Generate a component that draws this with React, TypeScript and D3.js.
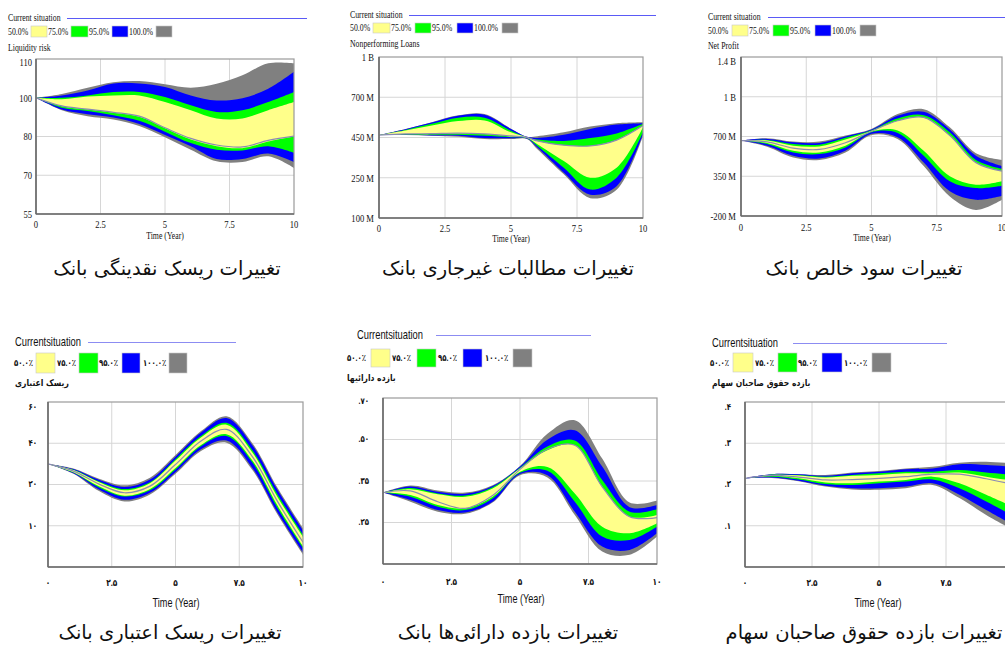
import React from 'react';
import * as d3 from 'd3';

// ---- shared axes / legend text ----
const years = [0, 1, 2, 3, 4, 5, 6, 7, 8, 9, 10];
const yearsNpl = [0, 1, 2, 3, 4, 5, 5.6, 6, 7, 8, 9, 10];
const xTickValues = [0, 2.5, 5, 7.5, 10];
const xTickLatin = ['0', '2.5', '5', '7.5', '10'];
const xTickPersian = ['۰', '۲.۵', '۵', '۷.۵', '۱۰'];
const bandLabelsLatin = ['50.0%', '75.0%', '95.0%', '100.0%'];
const bandLabelsPersian = ['۵۰.۰٪', '۷۵.۰٪', '۹۵.۰٪', '۱۰۰.۰٪'];
const bandColors = ['#ffff8a', '#00ff00', '#0000ff', '#808080'];
const captions = [
  'تغییرات ریسک نقدینگی بانک',
  'تغییرات مطالبات غیرجاری بانک',
  'تغییرات سود خالص بانک',
  'تغییرات ریسک اعتباری بانک',
  'تغییرات بازده دارائی‌ها بانک',
  'تغییرات بازده حقوق صاحبان سهام',
];

// ---- Liquidity risk ----
const liqTicks = [55, 70, 80, 100, 110];
const liqTickLabels = ['55', '70', '80', '100', '110'];
const liqGrayHi = [100, 101, 102.6, 104, 104.3, 103.5, 102.6, 103.6, 105.8, 108.9, 108.9];
const liqBlueHi = [100, 100.6, 101.9, 103.7, 103.7, 102.8, 100.6, 98.6, 99.8, 102.3, 106.7];
const liqGreenHi = [100, 100, 100.6, 101.5, 101.5, 100.2, 96.1, 92.7, 93.6, 97.8, 101.5];
const liqYellowHi = [100, 99.2, 100.3, 100.6, 100.6, 97.8, 93.6, 89.3, 89.3, 93.6, 97.8];
const liqYellowLo = [100, 95.6, 93.9, 92.2, 90.2, 84.2, 79.2, 77.5, 77.0, 78.7, 80];
const liqGreenLo = [100, 94.9, 93.2, 91.0, 88.1, 82.5, 78.3, 76.6, 76.4, 77.5, 75.8];
const liqBlueLo = [100, 93.9, 91.5, 89.8, 86.4, 80.8, 77.5, 74.2, 74.2, 75.6, 73.4];
const liqGrayLo = [100, 93.6, 90.5, 88.8, 85.4, 79.8, 76.6, 73.6, 73.4, 74.9, 71.9];
const liqCurrent = [100, 95.8, 94.1, 92.5, 90.5, 84.5, 79.5, 77.8, 77.3, 79, 80.2];

// ---- Nonperforming loans (million) ----
const nplTicks = [100, 250, 450, 700, 1000];
const nplTickLabels = ['100 M', '250 M', '450 M', '700 M', '1 B'];
const nplGrayHi = [465, 503, 545, 588, 596, 505, 455, 458, 482, 518, 539, 545];
const nplBlueHi = [465, 502, 543, 585, 592, 503, 454, 448, 467, 503, 530, 539];
const nplGreenHi = [465, 497, 535, 573, 573, 492, 452, 440, 433, 447, 475, 535];
const nplYellowHi = [465, 493, 524, 552, 556, 482, 451, 433, 412, 408, 437, 524];
const nplYellowLo = [465, 471, 471, 475, 471, 456, 449, 417, 333, 250, 300, 514];
const nplGreenLo = [465, 469, 467, 467, 461, 452, 447, 408, 300, 206, 250, 482];
const nplBlueLo = [465, 467, 463, 461, 447, 446, 445, 400, 275, 187, 218, 471];
const nplGrayLo = [465, 465, 461, 454, 442, 442, 443, 392, 267, 174, 205, 461];
const nplCurrent = [465, 472, 474, 477, 472, 460, 451, 433, 412, 408, 437, 524];

// ---- Net profit (million) ----
const npTicks = [-200, 350, 700, 1000, 1400];
const npTickLabels = ['-200 M', '350 M', '700 M', '1 B', '1.4 B'];
const npGrayHi = [664, 685, 655, 655, 707, 757, 869, 906, 769, 553, 494];
const npBlueHi = [664, 679, 649, 643, 700, 752, 856, 886, 752, 530, 440];
const npGreenHi = [664, 670, 634, 628, 688, 747, 836, 861, 732, 494, 416];
const npYellowHi = [664, 664, 619, 613, 673, 742, 819, 844, 707, 470, 395];
const npYellowLo = [664, 643, 574, 559, 619, 737, 745, 574, 350, 233, 280];
const npGreenLo = [664, 634, 559, 545, 604, 732, 727, 530, 281, 187, 220];
const npBlueLo = [664, 619, 530, 506, 574, 720, 694, 470, 141, 24, 80];
const npGrayLo = [664, 610, 515, 494, 559, 712, 679, 440, 71, -116, 24];
const npCurrent = [664, 652, 598, 586, 645, 740, 819, 844, 707, 470, 395];

// ---- Credit risk ----
const crTicks = [0, 10, 20, 40, 60];
const crTickLabels = ['', '۱۰', '۲۰', '۴۰', '۶۰'];
const crGrayHi = [30, 27.8, 22.8, 19.8, 23.3, 34.3, 45.9, 53.1, 40.3, 19.2, 9.4];
const crBlueHi = [30, 27.5, 22.3, 19.4, 22.4, 33.5, 45.2, 52.2, 39.3, 18.7, 8.9];
const crGreenHi = [30, 27.2, 21.5, 18.9, 21.1, 32.3, 43.5, 49.9, 36.8, 17.6, 7.8];
const crYellowHi = [30, 27.0, 21.1, 18.6, 20.6, 31.6, 42.8, 49.0, 35.8, 17.0, 7.3];
const crYellowLo = [30, 26.0, 19.6, 17.3, 18.9, 28.0, 39.2, 44.4, 31.9, 14.9, 5.0];
const crGreenLo = [30, 25.8, 19.3, 17.1, 18.6, 27.3, 38.6, 43.5, 30.9, 14.3, 4.6];
const crBlueLo = [30, 25.5, 18.8, 16.3, 18.0, 26.0, 37.1, 41.3, 28.3, 13.2, 3.5];
const crGrayLo = [30, 25.2, 18.4, 15.9, 17.6, 25.2, 36.3, 40.3, 27.3, 12.7, 3.0];
const crCurrent = [30, 26.5, 20.2, 18.0, 19.6, 29.7, 41.1, 46.7, 33.8, 15.9, 6.0];

// ---- Return on assets ----
const roaTicks = [0.15, 0.25, 0.35, 0.5, 0.7];
const roaTickLabels = ['', '.۲۵', '.۳۵', '.۵۰', '.۷۰'];
const roaGrayHi = [0.322, 0.339, 0.327, 0.322, 0.34, 0.404, 0.528, 0.593, 0.431, 0.298, 0.303];
const roaBlueHi = [0.322, 0.337, 0.324, 0.319, 0.338, 0.402, 0.499, 0.544, 0.402, 0.287, 0.292];
const roaGreenHi = [0.322, 0.333, 0.32, 0.315, 0.335, 0.398, 0.475, 0.496, 0.354, 0.276, 0.282];
const roaYellowHi = [0.322, 0.33, 0.318, 0.312, 0.332, 0.395, 0.461, 0.479, 0.336, 0.264, 0.268];
const roaYellowLo = [0.322, 0.316, 0.292, 0.284, 0.312, 0.383, 0.401, 0.32, 0.24, 0.224, 0.248];
const roaGreenLo = [0.322, 0.312, 0.288, 0.28, 0.308, 0.38, 0.387, 0.3, 0.216, 0.208, 0.24];
const roaBlueLo = [0.322, 0.304, 0.28, 0.274, 0.3, 0.375, 0.371, 0.276, 0.192, 0.184, 0.224];
const roaGrayLo = [0.322, 0.3, 0.276, 0.271, 0.298, 0.371, 0.363, 0.268, 0.18, 0.172, 0.216];
const roaCurrent = [0.322, 0.326, 0.3, 0.284, 0.315, 0.392, 0.465, 0.479, 0.336, 0.264, 0.262];

// ---- Return on equity ----
const roeTicks = [0, 0.1, 0.2, 0.3, 0.4];
const roeTickLabels = ['', '.۱', '.۲', '.۳', '.۴'];
const roeGrayHi = [0.215, 0.225, 0.225, 0.223, 0.229, 0.233, 0.239, 0.243, 0.253, 0.255, 0.251];
const roeBlueHi = [0.215, 0.225, 0.225, 0.221, 0.227, 0.231, 0.237, 0.239, 0.249, 0.247, 0.243];
const roeGreenHi = [0.215, 0.224, 0.223, 0.219, 0.223, 0.227, 0.231, 0.231, 0.235, 0.229, 0.223];
const roeYellowHi = [0.215, 0.223, 0.222, 0.217, 0.221, 0.223, 0.227, 0.227, 0.229, 0.219, 0.209];
const roeYellowLo = [0.215, 0.221, 0.215, 0.205, 0.203, 0.207, 0.211, 0.219, 0.203, 0.175, 0.146];
const roeGreenLo = [0.215, 0.219, 0.212, 0.201, 0.199, 0.203, 0.207, 0.212, 0.191, 0.159, 0.124];
const roeBlueLo = [0.215, 0.217, 0.209, 0.197, 0.191, 0.191, 0.195, 0.203, 0.175, 0.138, 0.102];
const roeGrayLo = [0.215, 0.216, 0.208, 0.195, 0.188, 0.187, 0.191, 0.199, 0.167, 0.126, 0.09];
const roeCurrent = [0.215, 0.222, 0.218, 0.211, 0.212, 0.215, 0.219, 0.225, 0.225, 0.214, 0.2];

type Series = {
  t: number[];
  grayHi: number[]; blueHi: number[]; greenHi: number[]; yellowHi: number[];
  yellowLo: number[]; greenLo: number[]; blueLo: number[]; grayLo: number[];
  current: number[];
};

const SERIF = "'Liberation Serif', 'Times New Roman', serif";
const SANS = "'Liberation Sans', 'DejaVu Sans', Arial, sans-serif";
const FA = "'DejaVu Sans', sans-serif";
const PAGE_W = 1005;

type Layout = {
  id: string;
  persian: boolean;
  plot: { left: number; right: number; top: number; bottom: number };
  title: { x: number; y: number; x1: number; x2: number };
  legend: { cy: number; top: number; bottom: number; sw: number[][]; lx: number[] };
  axisLabel: { x: number; y: number; text: string };
  tickRight: number;
  topTickShift: number;
  xLabelY: number;
  time: { x: number; y: number };
  ticks: number[];
  tickLabels: string[];
};

const layouts: Layout[] = [
  {
    id: 'liq', persian: false,
    plot: { left: 36, right: 294, top: 59, bottom: 214 },
    title: { x: 8, y: 18, x1: 67, x2: 307 },
    legend: { cy: 31.5, top: 26, bottom: 37, sw: [[31, 47], [71, 88], [112, 128], [156, 172]], lx: [8, 48, 89, 129] },
    axisLabel: { x: 8, y: 48, text: 'Liquidity risk' },
    tickRight: 32, topTickShift: 3, xLabelY: 224, time: { x: 165, y: 236 },
    ticks: liqTicks, tickLabels: liqTickLabels,
  },
  {
    id: 'npl', persian: false,
    plot: { left: 379, right: 643, top: 57, bottom: 218 },
    title: { x: 350, y: 15, x1: 409, x2: 656 },
    legend: { cy: 28, top: 23, bottom: 33, sw: [[373, 390], [415, 431], [457, 473], [502, 518]], lx: [350, 391, 432, 474] },
    axisLabel: { x: 350, y: 44, text: 'Nonperforming Loans' },
    tickRight: 374, topTickShift: 0, xLabelY: 228, time: { x: 511, y: 239 },
    ticks: nplTicks, tickLabels: nplTickLabels,
  },
  {
    id: 'np', persian: false,
    plot: { left: 741, right: 1002, top: 57, bottom: 216 },
    title: { x: 708, y: 17, x1: 768, x2: 1005 },
    legend: { cy: 31, top: 25, bottom: 36, sw: [[732, 748], [773, 789], [815, 831], [860, 876]], lx: [708, 749, 790, 832] },
    axisLabel: { x: 708, y: 46, text: 'Net Profit' },
    tickRight: 736, topTickShift: 4, xLabelY: 227, time: { x: 872, y: 238 },
    ticks: npTicks, tickLabels: npTickLabels,
  },
  {
    id: 'cr', persian: true,
    plot: { left: 48, right: 303, top: 402, bottom: 567 },
    title: { x: 15, y: 342, x1: 88, x2: 236 },
    legend: { cy: 363, top: 353, bottom: 373, sw: [[36, 55], [79, 98], [122, 140], [169, 187]], lx: [14, 57, 99, 143] },
    axisLabel: { x: 15, y: 383, text: 'ریسک اعتباری' },
    tickRight: 37, topTickShift: 5, xLabelY: 583, time: { x: 176, y: 602 },
    ticks: crTicks, tickLabels: crTickLabels,
  },
  {
    id: 'roa', persian: true,
    plot: { left: 383, right: 657, top: 398, bottom: 564 },
    title: { x: 357, y: 335, x1: 436, x2: 591 },
    legend: { cy: 358, top: 349, bottom: 367, sw: [[371, 390], [417, 436], [463, 482], [513, 532]], lx: [347, 392, 438, 485] },
    axisLabel: { x: 347, y: 378, text: 'بازده دارائیها' },
    tickRight: 369, topTickShift: 3, xLabelY: 582, time: { x: 521, y: 598 },
    ticks: roaTicks, tickLabels: roaTickLabels,
  },
  {
    id: 'roe', persian: true,
    plot: { left: 745, right: 1013, top: 402, bottom: 567 },
    title: { x: 712, y: 343, x1: 793, x2: 947 },
    legend: { cy: 363, top: 353, bottom: 372, sw: [[733, 753], [778, 797], [822, 842], [872, 891]], lx: [710, 755, 798, 844] },
    axisLabel: { x: 712, y: 383, text: 'بازده حقوق صاحبان سهام' },
    tickRight: 731, topTickShift: 5, xLabelY: 583, time: { x: 878, y: 602 },
    ticks: roeTicks, tickLabels: roeTickLabels,
  },
];

const seriesList: Series[] = [
  { t: years, grayHi: liqGrayHi, blueHi: liqBlueHi, greenHi: liqGreenHi, yellowHi: liqYellowHi, yellowLo: liqYellowLo, greenLo: liqGreenLo, blueLo: liqBlueLo, grayLo: liqGrayLo, current: liqCurrent },
  { t: yearsNpl, grayHi: nplGrayHi, blueHi: nplBlueHi, greenHi: nplGreenHi, yellowHi: nplYellowHi, yellowLo: nplYellowLo, greenLo: nplGreenLo, blueLo: nplBlueLo, grayLo: nplGrayLo, current: nplCurrent },
  { t: years, grayHi: npGrayHi, blueHi: npBlueHi, greenHi: npGreenHi, yellowHi: npYellowHi, yellowLo: npYellowLo, greenLo: npGreenLo, blueLo: npBlueLo, grayLo: npGrayLo, current: npCurrent },
  { t: years, grayHi: crGrayHi, blueHi: crBlueHi, greenHi: crGreenHi, yellowHi: crYellowHi, yellowLo: crYellowLo, greenLo: crGreenLo, blueLo: crBlueLo, grayLo: crGrayLo, current: crCurrent },
  { t: years, grayHi: roaGrayHi, blueHi: roaBlueHi, greenHi: roaGreenHi, yellowHi: roaYellowHi, yellowLo: roaYellowLo, greenLo: roaGreenLo, blueLo: roaBlueLo, grayLo: roaGrayLo, current: roaCurrent },
  { t: years, grayHi: roeGrayHi, blueHi: roeBlueHi, greenHi: roeGreenHi, yellowHi: roeYellowHi, yellowLo: roeYellowLo, greenLo: roeGreenLo, blueLo: roeBlueLo, grayLo: roeGrayLo, current: roeCurrent },
];

// Text drawn slightly condensed horizontally, centred vertically on y.
function Txt(props: {
  x: number; y: number; children: React.ReactNode; size: number; family: string;
  weight?: string | number; anchor?: string; sx?: number; fill?: string;
}) {
  const { x, y, children, size, family, weight = 'normal', anchor = 'start', sx = 0.78, fill = '#111' } = props;
  return (
    <text
      transform={`translate(${x},${y}) scale(${sx},1)`}
      fontSize={size}
      fontFamily={family}
      fontWeight={weight as any}
      textAnchor={anchor as any}
      dominantBaseline="central"
      fill={fill}
    >
      {children}
    </text>
  );
}

function Panel({ L, S }: { L: Layout; S: Series }) {
  const { plot } = L;
  const x = d3.scaleLinear().domain([0, 10]).range([plot.left, plot.right]);
  const n = L.ticks.length - 1;
  const y = d3
    .scaleLinear()
    .domain(L.ticks)
    .range(L.ticks.map((_, i) => plot.bottom - (i * (plot.bottom - plot.top)) / n));

  const curve = d3.curveCatmullRom.alpha(0.5);
  const band = (lo: number[], hi: number[]) =>
    d3
      .area<number>()
      .x((d) => x(d))
      .y0((_, i) => y(lo[i]))
      .y1((_, i) => y(hi[i]))
      .curve(curve)(S.t) || '';
  const line = (v: number[]) =>
    d3
      .line<number>()
      .x((d) => x(d))
      .y((_, i) => y(v[i]))
      .curve(curve)(S.t) || '';

  const textFamily = L.persian ? SANS : SERIF;
  const legendLabels = L.persian ? bandLabelsPersian : bandLabelsLatin;
  const xLabels = L.persian ? xTickPersian : xTickLatin;
  const smallSize = L.persian ? 9 : 10;
  const smallWeight = L.persian ? 'bold' : 'normal';
  const clipId = `clip-${L.id}`;

  return (
    <g>
      <defs>
        <clipPath id={clipId}>
          <rect x={plot.left} y={plot.top} width={plot.right - plot.left} height={plot.bottom - plot.top} />
        </clipPath>
      </defs>

      {/* legend header */}
      <Txt x={L.title.x} y={L.title.y} size={L.persian ? 12 : 10} family={textFamily}>
        {L.persian ? 'Currentsituation' : 'Current situation'}
      </Txt>
      <rect
        x={L.title.x1}
        y={Math.round(L.title.y)}
        width={L.title.x2 - L.title.x1}
        height={1}
        fill={L.persian ? '#8c8cf2' : '#5a5af6'}
      />
      {bandColors.map((c, i) => (
        <g key={c}>
          <Txt x={L.legend.lx[i]} y={L.legend.cy} size={smallSize} family={textFamily} weight={smallWeight}>
            {legendLabels[i]}
          </Txt>
          <rect
            x={L.legend.sw[i][0]}
            y={L.legend.top}
            width={L.legend.sw[i][1] - L.legend.sw[i][0]}
            height={L.legend.bottom - L.legend.top}
            fill={c}
            stroke="#c8c8c8"
            strokeWidth={0.6}
          />
        </g>
      ))}
      <Txt
        x={L.axisLabel.x}
        y={L.axisLabel.y}
        size={L.persian ? 9 : 10}
        family={L.persian ? FA : SERIF}
        weight={smallWeight}
        sx={L.persian ? 0.85 : 0.78}
      >
        {L.axisLabel.text}
      </Txt>

      {/* grid */}
      {L.ticks.slice(1, -1).map((v) => (
        <line key={`h${v}`} x1={plot.left} x2={plot.right} y1={y(v)} y2={y(v)} stroke="#d6d6d6" strokeWidth={1} />
      ))}
      {xTickValues.slice(1, -1).map((v) => (
        <line key={`v${v}`} x1={x(v)} x2={x(v)} y1={plot.top} y2={plot.bottom} stroke="#d6d6d6" strokeWidth={1} />
      ))}

      {/* sensitivity bands, widest first */}
      <g clipPath={`url(#${clipId})`}>
        <path d={band(S.grayLo, S.grayHi)} fill={bandColors[3]} />
        <path d={band(S.blueLo, S.blueHi)} fill={bandColors[2]} />
        <path d={band(S.greenLo, S.greenHi)} fill={bandColors[1]} />
        <path d={band(S.yellowLo, S.yellowHi)} fill={bandColors[0]} />
        <path d={line(S.current)} fill="none" stroke="#8a8ab4" strokeWidth={1.2} />
      </g>

      {/* frame */}
      <rect
        x={plot.left}
        y={plot.top}
        width={plot.right - plot.left}
        height={plot.bottom - plot.top}
        fill="none"
        stroke="#9a9a9a"
        strokeWidth={1.2}
      />
      <line x1={plot.left} x2={plot.left} y1={plot.top} y2={plot.bottom} stroke="#6a6a6a" strokeWidth={1.6} />
      <line x1={plot.left} x2={plot.right} y1={plot.bottom} y2={plot.bottom} stroke="#6a6a6a" strokeWidth={1.6} />

      {/* y tick labels */}
      {L.ticks.map((v, i) =>
        L.tickLabels[i] ? (
          <Txt
            key={`yt${v}`}
            x={L.tickRight}
            y={y(v) + (i === n ? L.topTickShift : 0)}
            size={L.persian ? 9 : 11}
            family={textFamily}
            weight={smallWeight}
            anchor="end"
          >
            {L.tickLabels[i]}
          </Txt>
        ) : null
      )}

      {/* x tick labels (those that fall past the page edge are not drawn) */}
      {xTickValues.map((v, i) =>
        x(v) <= PAGE_W ? (
          <Txt
            key={`xt${v}`}
            x={x(v)}
            y={L.xLabelY}
            size={L.persian ? 9.5 : 11}
            family={textFamily}
            weight={smallWeight}
            anchor="middle"
          >
            {xLabels[i]}
          </Txt>
        ) : null
      )}
      <Txt x={L.time.x} y={L.time.y} size={L.persian ? 12 : 10} family={textFamily} anchor="middle" sx={L.persian ? 0.76 : 0.78}>
        Time (Year)
      </Txt>
    </g>
  );
}

const captionPos = [
  { x: 167, y: 268 },
  { x: 508, y: 268 },
  { x: 864, y: 268 },
  { x: 170, y: 632 },
  { x: 508, y: 632 },
  { x: 864, y: 632 },
];

export default function App() {
  return (
    <svg
      width={PAGE_W}
      height={651}
      viewBox={`0 0 ${PAGE_W} 651`}
      style={{ position: 'absolute', left: 0, top: 0, background: '#fff' }}
    >
      <rect x={0} y={0} width={PAGE_W} height={651} fill="#fff" />
      {layouts.map((L, i) => (
        <Panel key={L.id} L={L} S={seriesList[i]} />
      ))}
      {captions.map((c, i) => (
        <text
          key={c}
          x={captionPos[i].x}
          y={captionPos[i].y}
          fontSize={19.5}
          fontFamily={FA}
          textAnchor="middle"
          dominantBaseline="central"
          fill="#111"
          direction="rtl"
        >
          {c}
        </text>
      ))}
    </svg>
  );
}
